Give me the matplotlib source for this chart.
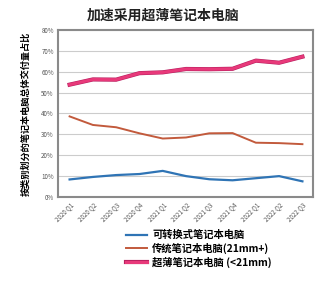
import numpy as np
import matplotlib.pyplot as plt
import matplotlib.patheffects as pe

plt.rcParams['font.family'] = ['Noto Sans CJK SC', 'DejaVu Sans']

# Datos
quarters = ['2020 Q1', '2020 Q2', '2020 Q3', '2020 Q4', '2021 Q1', '2021 Q2',
            '2021 Q3', '2021 Q4', '2022 Q1', '2022 Q2', '2022 Q3']
convertible = [8.4, 9.6, 10.5, 11.0, 12.5, 10.0, 8.5, 8.0, 9.0, 10.0, 7.5]
traditional = [38.6, 34.5, 33.4, 30.5, 28.0, 28.5, 30.5, 30.6, 26.0, 25.8, 25.3]
ultrathin = [53.8, 56.3, 56.2, 59.3, 59.7, 61.3, 61.2, 61.4, 65.3, 64.3, 67.2]
series_names = ['可转换式笔记本电脑', '传统笔记本电脑(21mm+)', '超薄笔记本电脑 (<21mm)']
yticks = [0, 10, 20, 30, 40, 50, 60, 70, 80]

fig = plt.figure(figsize=(3.35, 2.88), dpi=100)
ax = fig.add_axes([0.173, 0.316, 0.761, 0.580])

x = np.arange(len(quarters))
ax.plot(x, convertible, color='#2f74b5', lw=1.6, label=series_names[0])
ax.plot(x, traditional, color='#c25a3c', lw=1.4, label=series_names[1])
ax.plot(x, ultrathin, color='#e8397a', lw=2.2, label=series_names[2],
        path_effects=[pe.Stroke(linewidth=3.0, foreground='#b82060'), pe.Normal()])

ax.set_xlim(-0.5, 10.45)
ax.set_ylim(0, 80)
ax.set_yticks(yticks)
ax.set_yticklabels([f'{v}%' for v in yticks], fontsize=4.5, color='#555555')
ax.set_xticks(x)
ax.set_xticklabels(quarters, rotation=45, ha='right', rotation_mode='anchor',
                   fontsize=4.5, color='#555555')
ax.tick_params(length=0, pad=3)
ax.yaxis.grid(True, color='#cccccc', lw=0.8)
ax.set_axisbelow(True)
for s in ax.spines.values():
    s.set_color('#8a8a8a')
    s.set_linewidth(1.5)

ax.set_ylabel('按类别划分的笔记本电脑总体交付量占比', fontsize=6.6,
              fontweight='bold', labelpad=8)
fig.text(0.487, 0.945, '加速采用超薄笔记本电脑', ha='center', va='center',
         fontsize=10, fontweight='bold', color='#222222')

leg = fig.legend(loc='upper left', bbox_to_anchor=(0.365, 0.215), frameon=False,
                 fontsize=7.4, handlelength=2.0, handletextpad=0.5, labelspacing=0.25,
                 borderaxespad=0)
for t in leg.get_texts():
    t.set_fontweight('bold')

fig.savefig('out.png', dpi=100)
